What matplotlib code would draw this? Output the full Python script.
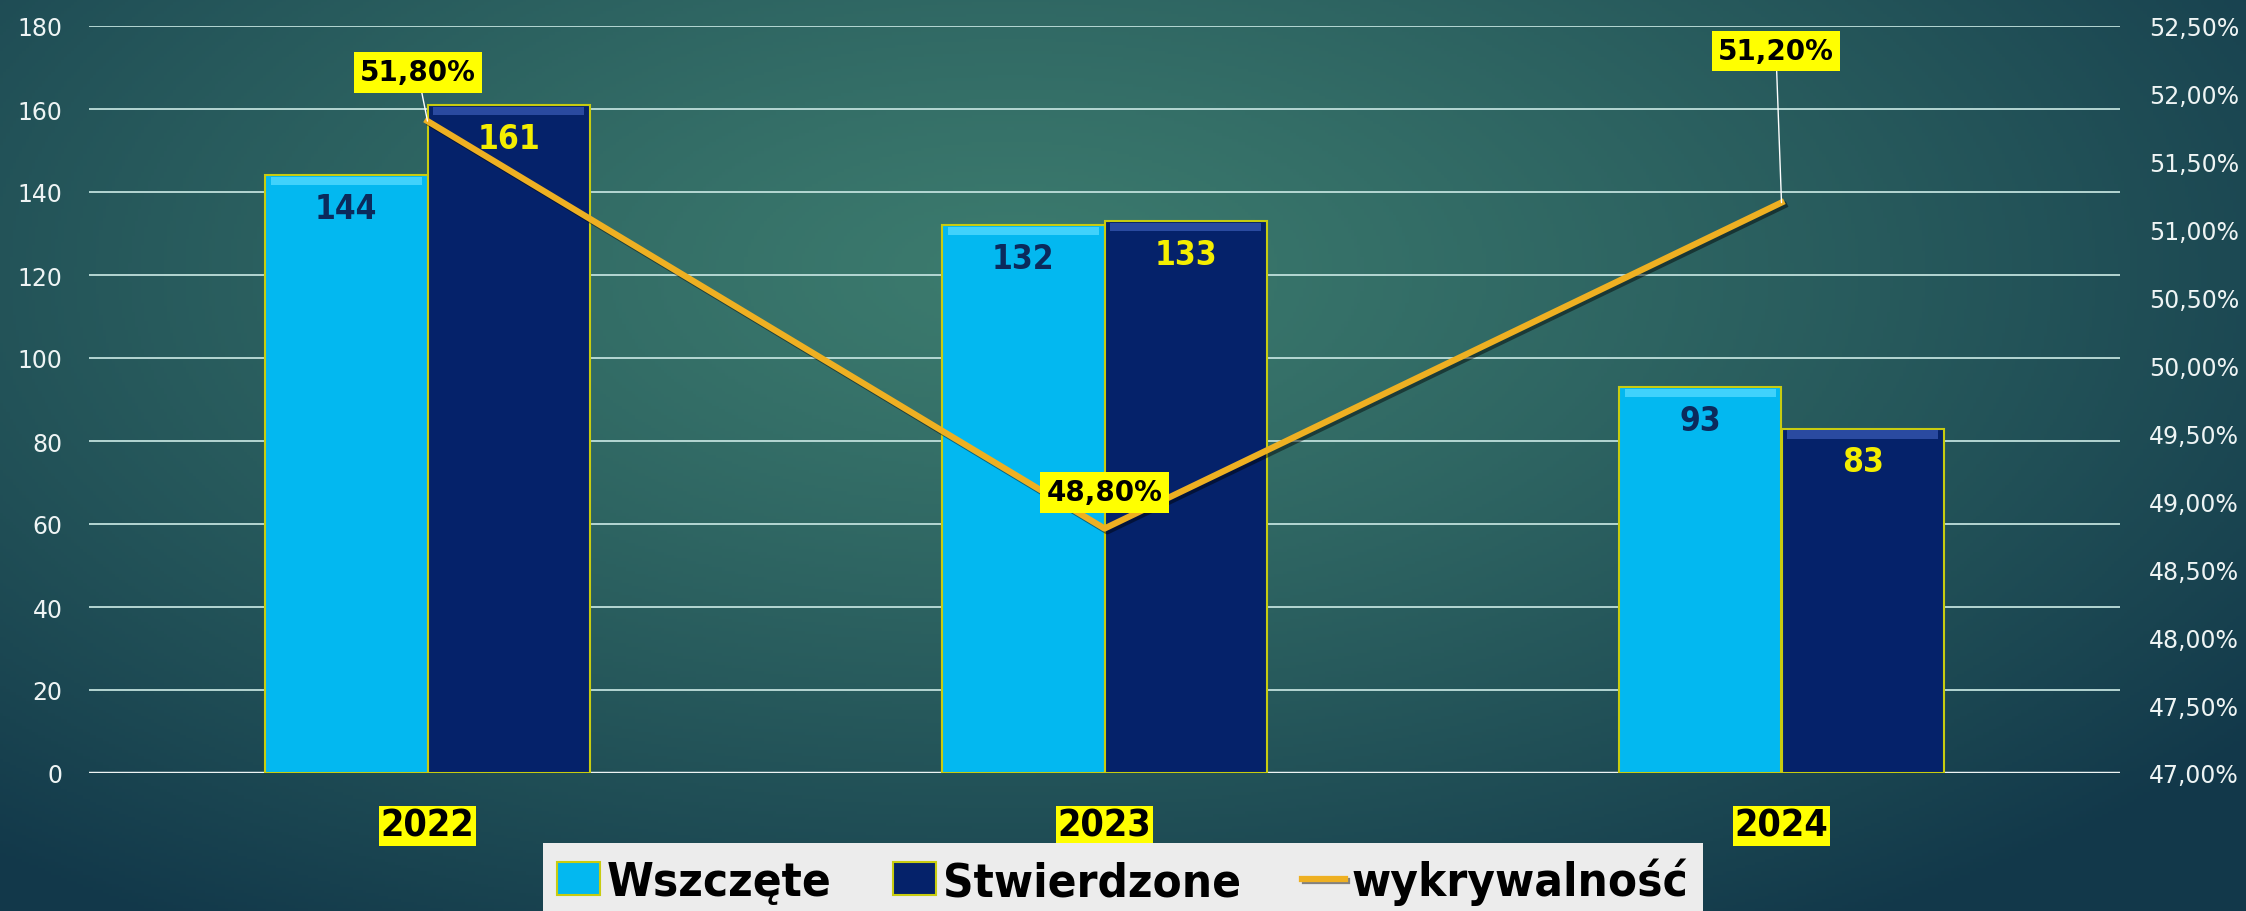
import matplotlib
matplotlib.use('Agg')
import matplotlib.pyplot as plt
import matplotlib.patheffects as pe
import numpy as np
from matplotlib import font_manager
from matplotlib.ticker import FuncFormatter

# data
years = ['2022', '2023', '2024']
wszczete = [144, 132, 93]
stwierdzone = [161, 133, 83]
wykrywalnosc = [51.80, 48.80, 51.20]
series_names = ['Wszczęte', 'Stwierdzone', 'wykrywalność']

names = {f.name for f in font_manager.fontManager.ttflist}
narrow = 'Liberation Sans Narrow' if 'Liberation Sans Narrow' in names else 'DejaVu Sans'
cond = dict(family=narrow, stretch='condensed')

fig = plt.figure(figsize=(22.46, 9.12), dpi=100)

# teal gradient background
bg = fig.add_axes([0, 0, 1, 1], zorder=-10)
yy, xx = np.mgrid[0:1:300j, 0:1:700j]
d = np.sqrt(((xx - 0.45) / 0.7) ** 2 + ((yy - 0.3) / 0.85) ** 2)
d = np.clip(d, 0, 1) ** 1.2
c_in = np.array([0x3c, 0x7b, 0x6e]) / 255
c_out = np.array([0x12, 0x38, 0x4a]) / 255
img = c_in + (c_out - c_in) * d[..., None]
bg.imshow(img, aspect='auto', extent=[0, 1, 0, 1], origin='upper')
bg.axis('off')

ax = fig.add_axes([89 / 2246, 138 / 912, 2031 / 2246, 747 / 912])
ax.set_facecolor('none')
x = np.arange(len(years))
w = 0.24
edge = '#c8cc10'
b1 = ax.bar(x - w / 2, wszczete, w, color='#03b8f0', edgecolor=edge, linewidth=1.5, zorder=2,
            label=series_names[0])
b2 = ax.bar(x + w / 2, stwierdzone, w, color='#05226a', edgecolor=edge, linewidth=1.5, zorder=2,
            label=series_names[1])
# bevel highlight on bar tops
ax.bar(x - w / 2, 2.0, w * 0.93, bottom=np.array(wszczete) - 2.4, color='#40d2fc', lw=0, zorder=3)
ax.bar(x + w / 2, 2.0, w * 0.93, bottom=np.array(stwierdzone) - 2.4, color='#2a4aa0', lw=0, zorder=3)

for xi, v in zip(x - w / 2, wszczete):
    ax.annotate(str(v), (xi, v), xytext=(0, -24), textcoords='offset points', ha='center',
                va='center', fontsize=24, fontweight='bold', color='#0b2a5c', zorder=5, **cond)
for xi, v in zip(x + w / 2, stwierdzone):
    ax.annotate(str(v), (xi, v), xytext=(0, -24), textcoords='offset points', ha='center',
                va='center', fontsize=24, fontweight='bold', color='#f4ee00', zorder=5, **cond)

ax.set_xlim(-0.5, 2.5)
ax.set_ylim(0, 180)
ax.set_yticks(range(0, 181, 20))
ax.yaxis.grid(True, color='#c0e0dc', lw=1.3)
ax.set_axisbelow(True)
ax.axhline(0, color='#eef4f4', lw=2.5, zorder=1)
for s in ax.spines.values():
    s.set_visible(False)
ax.tick_params(axis='y', length=0, labelsize=17, labelcolor='#eef4f4', pad=19)
ax.set_xticks(x, years)
ax.tick_params(axis='x', length=0, pad=25)
for lbl in ax.get_xticklabels():
    lbl.set_fontsize(27)
    lbl.set_fontweight('bold')
    lbl.set_family(narrow)
    lbl.set_stretch('condensed')
    lbl.set_color('black')
    lbl.set_bbox(dict(boxstyle='square,pad=0.05', fc='#ffff00', ec='none'))

ax2 = ax.twinx()
ln, = ax2.plot(x, wykrywalnosc, color='#eeb022', lw=4.5, zorder=4, label=series_names[2],
               path_effects=[pe.SimpleLineShadow(offset=(2, -2), alpha=0.45), pe.Normal()])
ax2.set_ylim(47, 52.5)
ax2.set_yticks(np.arange(47, 52.51, 0.5))
ax2.yaxis.set_major_formatter(FuncFormatter(lambda v, p: f'{v:.2f}%'.replace('.', ',')))
ax2.tick_params(axis='y', length=0, labelsize=17, labelcolor='#eef4f4', pad=21)
for s in ax2.spines.values():
    s.set_visible(False)

label_offsets = [(-7, 35), (0, 26), (-4, 109)]
leaders = [True, False, True]
for xi, v, off, lead in zip(x, wykrywalnosc, label_offsets, leaders):
    ax2.annotate(f'{v:.2f}%'.replace('.', ','), (xi, v), xytext=off, textcoords='offset points',
                 ha='center', va='center', fontsize=20, fontweight='bold', color='black',
                 bbox=dict(boxstyle='square,pad=0.22', fc='#ffff00', ec='none'),
                 arrowprops=dict(arrowstyle='-', color='white', lw=1, shrinkA=0, shrinkB=0) if lead else None,
                 zorder=6)

fig.legend([b1, b2, ln], series_names, loc='lower center', bbox_to_anchor=(0.5, -0.035), ncol=3,
           frameon=True, facecolor='#ececec', edgecolor='none', fancybox=False, framealpha=1,
           prop={'family': narrow, 'weight': 'bold', 'size': 34, 'stretch': 'condensed'},
           handlelength=0.9, handleheight=0.7, handletextpad=0.15, columnspacing=1.3, borderpad=0.3)

fig.savefig('out.png', dpi=100)
